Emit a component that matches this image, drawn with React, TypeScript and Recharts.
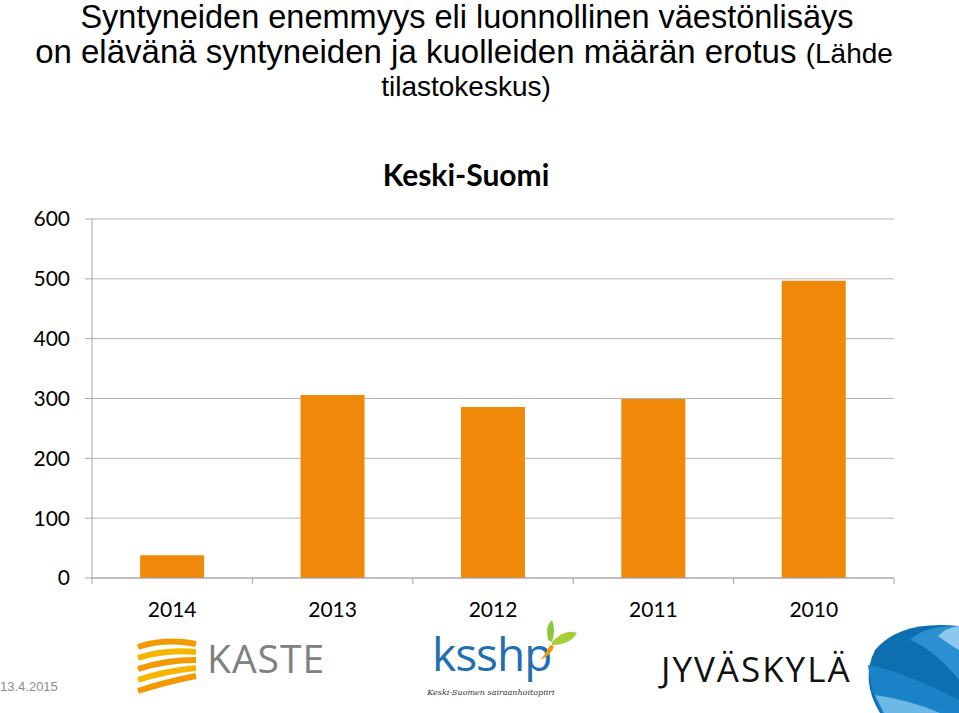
import { BarChart, Bar, XAxis, YAxis, CartesianGrid } from "recharts";

// Syntyneiden enemmyys, Keski-Suomi (tilastokeskus)
const years = ["2014", "2013", "2012", "2011", "2010"];
const surplus = [38, 306, 286, 299, 497];
const yTicks = [0, 100, 200, 300, 400, 500, 600];

const chartData = years.map((year, i) => ({ year, value: surplus[i] }));

const BAR = "#F0880A";
const AXIS = "#a6a6a6";
const FONT = "Lato, 'Open Sans', sans-serif";
const ARIAL = "'Liberation Sans', Arial, sans-serif";

// excel style: tick marks between the categories, not under them
const YearTick = (props: any) => {
  const { x, y, payload, index, visibleTicksCount } = props;
  const half = payload?.offset || 80.2;
  const last = index === visibleTicksCount - 1;
  return (
    <g>
      <line x1={x - half} x2={x - half} y1={y - 8} y2={y - 2} stroke={AXIS} />
      {last && <line x1={x + half} x2={x + half} y1={y - 8} y2={y - 2} stroke={AXIS} />}
      <text x={x} y={y + 31} textAnchor="middle" fill="#000" fontSize={21} fontFamily={FONT}>
        {payload.value}
      </text>
    </g>
  );
};

const App = () => {
  return (
    <div style={{ position: "absolute", left: 0, top: 0, width: 959, height: 713, background: "#fff", overflow: "hidden" }}>
      <div style={{ position: "absolute", left: 0, top: 0 }}>
        <BarChart
          width={959}
          height={713}
          data={chartData}
          margin={{ top: 219, right: 65, bottom: 85, left: 0 }}
          barCategoryGap="30%"
        >
          <CartesianGrid vertical={false} stroke="#b4b4b4" />
          <XAxis
            dataKey="year"
            axisLine={{ stroke: AXIS }}
            tickLine={false}
            tick={<YearTick />}
            height={50}
            interval={0}
          />
          <YAxis
            domain={[0, 600]}
            ticks={yTicks}
            width={92}
            axisLine={{ stroke: AXIS }}
            tickLine={{ stroke: AXIS }}
            tickSize={7}
            tick={{ fill: "#000", fontSize: 21, fontFamily: FONT }}
            tickMargin={15}
          />
          <Bar dataKey="value" fill={BAR} isAnimationActive={false} />
        </BarChart>
      </div>

      <svg width={959} height={713} style={{ position: "absolute", left: 0, top: 0, pointerEvents: "none" }}>
        {/* titles */}
        <g fontFamily={ARIAL} fill="#000" textAnchor="middle">
          <text x={467} y={28} fontSize={32.5}>
            Syntyneiden enemmyys eli luonnollinen väestönlisäys
          </text>
          <text x={464} y={63} fontSize={33}>
            on elävänä syntyneiden ja kuolleiden määrän erotus <tspan fontSize={28}>(Lähde</tspan>
          </text>
          <text x={466} y={96} fontSize={28}>
            tilastokeskus)
          </text>
        </g>
        <text x={466} y={186} textAnchor="middle" fontFamily={FONT} fontWeight={700} fontSize={30} fill="#000">
          Keski-Suomi
        </text>

        {/* date */}
        <text x={0} y={691} fontFamily={ARIAL} fontSize={13} fill="#8c8c8c">
          13.4.2015
        </text>

        {/* KASTE */}
        <g>
          {[0, 1, 2, 3, 4].map((i) => (
            <path
              key={i}
              d={`M138 ${647 + i * 11} Q 165 ${638 + i * 11} 196 ${644 + i * 8}`}
              stroke={i % 2 ? "#F7B500" : "#F29A00"}
              strokeWidth={6}
              fill="none"
            />
          ))}
          <text x={207} y={673} fontFamily="'Open Sans', sans-serif" fontSize={39} fill="#808080" letterSpacing={1}>
            KASTE
          </text>
        </g>
        {/* ksshp */}
        <g>
          <text x={432} y={671} fontFamily="'Open Sans', sans-serif" fontSize={46} fill="#1f6fb2" letterSpacing={-1}>
            ksshp
          </text>
          <path d="M548 640 Q 545 625 552 620 Q 556 630 552 642 Z" fill="#8cc63f" />
          <path d="M552 642 Q 565 628 577 633 Q 570 645 552 645 Z" fill="#a6ce39" />
          <path d="M550 645 Q 545 655 540 660 Q 552 655 554 646 Z" fill="#f29a00" />
          <text x={491} y={695} textAnchor="middle" fontFamily="'DejaVu Serif', serif" fontStyle="italic" fontSize={8} fill="#333">
            Keski-Suomen sairaanhoitopiiri
          </text>
        </g>
        {/* Jyväskylä */}
        <text x={661} y={682} fontFamily="'Open Sans', sans-serif" fontSize={35} fill="#111" letterSpacing={2}>
          JYVÄSKYLÄ
        </text>
        <g>
          <path d="M959 626 Q 900 620 875 650 Q 860 680 880 713 L 959 713 Z" fill="#0e6fb0" />
          <path d="M959 626 Q 925 625 910 640 Q 935 650 959 680 Z" fill="#2b8fd0" />
          <path d="M959 626 Q 945 628 938 636 Q 950 645 959 650 Z" fill="#8cc8ec" />
          <path d="M868 665 Q 900 670 959 700 L 959 713 L 882 713 Q 870 690 868 665 Z" fill="#1a83c8" />
          <path d="M875 695 Q 910 700 940 713 L 884 713 Z" fill="#6cb8e6" />
        </g>
      </svg>
    </div>
  );
};

export default App;
